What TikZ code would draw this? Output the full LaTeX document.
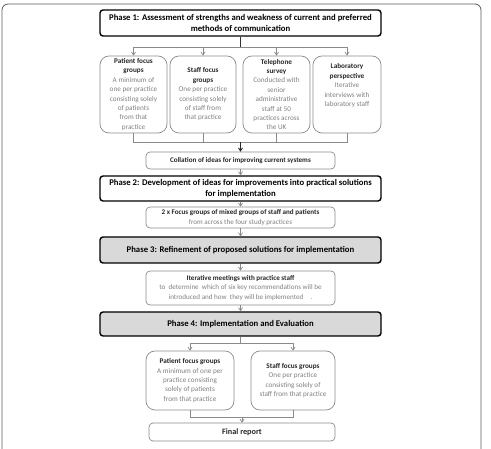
\documentclass[tikz,border=0pt]{standalone}
\usepackage{fontspec}
\setmainfont{Carlito}
\usepackage{xcolor}
\definecolor{framegray}{HTML}{5A5A5A}
\definecolor{boxgray}{HTML}{8A8A8A}
\definecolor{txtgray}{HTML}{808080}
\definecolor{phasefill}{HTML}{D9D9D9}
\usetikzlibrary{arrows.meta}

\tikzset{
  phasebox/.style={draw=black, line width=1.4pt, rounded corners=3pt, inner sep=0pt,
    align=center, minimum width=281pt, font=\fontsize{8.7}{10.3}\selectfont\bfseries},
  subbox/.style={draw=boxgray, line width=0.7pt, rounded corners=9pt, inner sep=0pt,
    align=center, minimum height=77pt, font=\fontsize{7.2}{9.4}\selectfont},
  midbox/.style={draw=boxgray, line width=0.7pt, rounded corners=4pt, inner sep=0pt,
    align=center, minimum width=189pt, font=\fontsize{7.1}{9.2}\selectfont},
  conn/.style={draw=boxgray, line width=0.7pt},
  tip/.style={-{Straight Barb[length=3pt,width=4pt]}},
}
\newcommand{\hd}[1]{{\bfseries\color{black!85}#1}}
\newcommand{\gr}[1]{{\color{txtgray}#1}}

\begin{document}
\begin{tikzpicture}[x=1pt, y=-1pt]
  \useasboundingbox (0,0) rectangle (491,449);
  \clip (0,0) rectangle (491,449);
  % outer frame, cut at the bottom
  \draw[framegray, line width=0.8pt, rounded corners=6pt] (2,4) rectangle (481,480);

  % phase 1 and the four sources
  \node[phasebox, minimum height=26pt] (ph1) at (240.5,23)
    {Phase 1: Assessment of strengths and weakness of current and preferred\\methods of communication};
  \node[subbox, minimum width=67pt] (pfg) at (133.5,94.5)
    {\hd{Patient focus}\\\hd{groups}\\\gr{A minimum of}\\\gr{one per practice}\\\gr{consisting solely}\\\gr{of patients}\\\gr{from that}\\\gr{practice}};
  \node[subbox, minimum width=66pt] (sfg) at (203,94.5)
    {\hd{Staff focus}\\\hd{groups}\\\gr{One per practice}\\\gr{consisting solely}\\\gr{of staff from}\\\gr{that practice}};
  \node[subbox, minimum width=67pt] (tel) at (276.5,94.5)
    {\hd{Telephone}\\\hd{survey}\\\gr{Conducted with}\\\gr{senior}\\\gr{administrative}\\\gr{staff at 50}\\\gr{practices across}\\\gr{the UK}};
  \node[subbox, minimum width=68pt] (lab) at (347,94.5)
    {\hd{Laboratory}\\\hd{perspective}\\\gr{Iterative}\\\gr{interviews with}\\\gr{laboratory staff}\\~\\~};
  \coordinate (spl1) at (240.5,47);
  \coordinate (mrg1) at (240.5,142);

  \node[midbox, minimum height=17pt] (col) at (240.5,160.5)
    {\hd{Collation of ideas for improving current systems}};

  % phase 2
  \node[phasebox, minimum height=25pt] (ph2) at (240.5,188.5)
    {Phase 2: Development of ideas for improvements into practical solutions\\for implementation};
  \node[midbox, minimum height=21pt] (mix) at (240.5,217.5)
    {\hd{2 x Focus groups of mixed groups of staff and patients}\\\gr{from across the four study practices}};

  % phase 3
  \node[phasebox, fill=phasefill, minimum height=26pt] (ph3) at (240.5,250)
    {Phase 3: Refinement of proposed solutions for implementation};
  \node[midbox, minimum height=34pt] (itm) at (240.5,288)
    {\hd{Iterative meetings with practice staff}\\\gr{to\ \ determine\ \ which of six key recommendations will be}\\\gr{introduced and how\ \ they will be implemented\quad.}};

  % phase 4
  \node[phasebox, fill=phasefill, minimum height=24pt] (ph4) at (240.5,324)
    {Phase 4: Implementation and Evaluation};
  \node[subbox, minimum width=88pt, minimum height=59pt] (pfg2) at (190,380.5)
    {\hd{Patient focus groups}\\\gr{A minimum of one per}\\\gr{practice consisting}\\\gr{solely of patients}\\\gr{from that practice}};
  \node[subbox, minimum width=84pt, minimum height=59pt] (sfg2) at (293,380.5)
    {\hd{Staff focus groups}\\\gr{One per practice}\\\gr{consisting solely of}\\\gr{staff from that practice}};
  \coordinate (spl2) at (240.5,343);
  \coordinate (mrg2) at (242,417);
  \node[midbox, minimum width=186pt, minimum height=18pt, font=\fontsize{8.2}{10}\selectfont] (fin) at (242,432)
    {\hd{Final report}};

  % connectors
  \draw[line width=0.8pt, black!80] (ph1) -- (spl1);
  \draw[conn] (pfg |- spl1) -- (lab |- spl1);
  \foreach \b in {pfg,sfg,tel,lab}
    \draw[conn, tip] (\b |- spl1) -- (\b);
  \draw[conn] (pfg) -- (pfg |- mrg1) -- (lab |- mrg1) -- (lab);
  \draw[conn] (sfg) -- (sfg |- mrg1);
  \draw[conn] (tel) -- (tel |- mrg1);
  \draw[line width=0.9pt, black!85, tip] (mrg1) -- (col);
  \draw[conn, tip] (col) -- (ph2);
  \draw[conn, tip] (ph2) -- (mix);
  \draw[conn, tip] (mix) -- (ph3);
  \draw[conn, tip] (ph3) -- (itm);
  \draw[conn, tip] (itm) -- (ph4);
  \draw[conn] (ph4) -- (spl2);
  \draw[conn] (pfg2 |- spl2) -- (sfg2 |- spl2);
  \draw[conn, tip] (pfg2 |- spl2) -- (pfg2);
  \draw[conn, tip] (sfg2 |- spl2) -- (sfg2);
  \draw[conn] (pfg2) -- (pfg2 |- mrg2) -- (sfg2 |- mrg2) -- (sfg2);
  \draw[conn, tip] (mrg2) -- (fin);
\end{tikzpicture}
\end{document}
